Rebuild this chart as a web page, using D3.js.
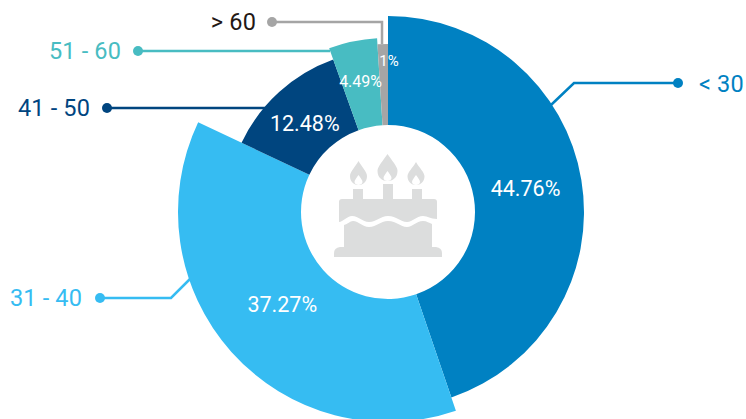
<!DOCTYPE html>
<html>
<head>
<meta charset="utf-8">
<script src="https://cdn.jsdelivr.net/npm/d3@7"></script>
<style>
  html, body { margin: 0; padding: 0; background: #fff; }
  svg { display: block; }
  text { font-family: Roboto, "Noto Sans", sans-serif; }
  .group-label { font-size: 23.5px; letter-spacing: 0.15px; }
  .pct-label { fill: #fff; font-weight: 400; text-anchor: middle; dominant-baseline: central; }
</style>
</head>
<body>
<svg id="chart" width="746" height="419"></svg>
<script>
const age_groups = ['< 30', '31 - 40', '41 - 50', '51 - 60', '> 60'];
const shares = [44.76, 37.27, 12.48, 4.49, 1];
const share_labels = ['44.76%', '37.27%', '12.48%', '4.49%', '1%'];

const WIDTH = 746, HEIGHT = 419;
const CENTER = { x: 388, y: 212 };
const INNER_R = 87;

// per slice styling, same order as age_groups
const colors = ['#0081c2', '#36bcf2', '#00457f', '#48bcc2', '#a5a5a5'];
const outer_r = [196, 210, 162, 174, 168];
const pct_font = [21.5, 21.5, 21.5, 16, 15];
// pct label offset from slice centroid
const pct_shift = [[-2, 0], [5, -6], [0.5, 4], [-1, -3], [5, -24]];

// leader line: points run from the dot to the slice; label sits beside the dot
const leaders = [
    { pts: [[678, 83], [574, 83], [551, 105]], label_x: 699, label_y: 84, anchor: 'start', label_color: '#0081c2' },
    { pts: [[100, 298], [171, 298], [190, 279]], label_x: 82, label_y: 298, anchor: 'end', label_color: '#36bcf2' },
    { pts: [[107, 108], [265, 108]], label_x: 90, label_y: 108, anchor: 'end', label_color: '#00457f' },
    { pts: [[138, 51], [330, 51]], label_x: 121, label_y: 51, anchor: 'end', label_color: '#48bcc2' },
    { pts: [[272, 22], [382, 22], [382, 44]], label_x: 256, label_y: 22, anchor: 'end', label_color: '#231815' }
];

const svg = d3.select('#chart');

const pie = d3.pie().sort(null).value(d => d);
const arcs = pie(shares);
const arc = d3.arc();

const chart = svg.append('g')
    .attr('transform', `translate(${CENTER.x}, ${CENTER.y})`);

chart.selectAll('.slice')
    .data(arcs)
    .join('path')
    .attr('class', 'slice')
    .attr('fill', (d, i) => colors[i])
    .attr('d', (d, i) => arc({ ...d, innerRadius: INNER_R, outerRadius: outer_r[i] }));

// leader lines
const line = d3.line();
svg.append('g').selectAll('path')
    .data(leaders)
    .join('path')
    .attr('d', d => line(d.pts))
    .attr('fill', 'none')
    .attr('stroke', (d, i) => colors[i])
    .attr('stroke-width', 2.5);

svg.append('g').selectAll('circle')
    .data(leaders)
    .join('circle')
    .attr('cx', d => d.pts[0][0])
    .attr('cy', d => d.pts[0][1])
    .attr('r', 5)
    .attr('fill', (d, i) => colors[i]);

svg.append('g').selectAll('text')
    .data(leaders)
    .join('text')
    .attr('class', 'group-label')
    .attr('x', d => d.label_x)
    .attr('y', d => d.label_y)
    .attr('text-anchor', d => d.anchor)
    .attr('dominant-baseline', 'central')
    .attr('fill', d => d.label_color)
    .text((d, i) => age_groups[i]);

// percentages
chart.selectAll('.pct-label')
    .data(arcs)
    .join('text')
    .attr('class', 'pct-label')
    .attr('x', (d, i) => arc.centroid({ ...d, innerRadius: INNER_R, outerRadius: outer_r[i] })[0] + pct_shift[i][0])
    .attr('y', (d, i) => arc.centroid({ ...d, innerRadius: INNER_R, outerRadius: outer_r[i] })[1] + pct_shift[i][1])
    .attr('font-size', (d, i) => pct_font[i])
    .text((d, i) => share_labels[i]);

// cake icon
const cake = svg.append('g').attr('fill', '#dcdddd');

cake.append('path').attr('d',
    'M342 199 H434 Q437 199 437 202 V219 ' +
    'C430 219 428 216 423 216 C416 216 413 222 407 222 C400 222 397 216 388 216 ' +
    'C380 216 377 222 369 222 C362 222 359 216 352 216 C347 216 343 222 339 222 V202 Q339 199 342 199 Z');
cake.append('path').attr('d',
    'M344 225 C348 224 350 221 353 221 C359 221 362 227 369 227 C377 227 380 221 388 221 ' +
    'C397 221 400 227 407 227 C413 227 416 221 423 221 C427 221 429 223 432 224 V247 H344 Z');
cake.append('path').attr('d', 'M340 247 H436 Q442 248 442 253 V257 H334 V253 Q334 248 340 247 Z');

[[353, 189, 10], [383, 184, 10], [412, 189, 10]].forEach(c => {
    cake.append('rect').attr('x', c[0]).attr('y', c[1]).attr('width', c[2]).attr('height', 199 - c[1]);
});

function flame(x, top, bottom, half) {
    const shoulder = bottom - (bottom - top) * 0.38;
    cake.append('path').attr('d',
        `M${x} ${top} C${x + half * 0.4} ${top + 6} ${x + half} ${shoulder - 4} ${x + half} ${shoulder} ` +
        `C${x + half} ${bottom - 3} ${x + half * 0.5} ${bottom} ${x} ${bottom} ` +
        `C${x - half * 0.5} ${bottom} ${x - half} ${bottom - 3} ${x - half} ${shoulder} ` +
        `C${x - half} ${shoulder - 4} ${x - half * 0.4} ${top + 6} ${x} ${top} Z`);
    // white inner flame
    cake.append('path').attr('fill', '#fff').attr('d',
        `M${x} ${bottom - 10} C${x + 2} ${bottom - 7} ${x + 4} ${bottom - 5} ${x + 4} ${bottom - 3} ` +
        `C${x + 4} ${bottom - 1} ${x + 2} ${bottom} ${x} ${bottom} ` +
        `C${x - 2} ${bottom} ${x - 4} ${bottom - 1} ${x - 4} ${bottom - 3} ` +
        `C${x - 4} ${bottom - 5} ${x - 2} ${bottom - 7} ${x} ${bottom - 10} Z`);
}
flame(358.5, 161, 185, 8.5);
flame(387.5, 154, 181, 10);
flame(416, 162, 185, 8.5);
</script>
</body>
</html>
